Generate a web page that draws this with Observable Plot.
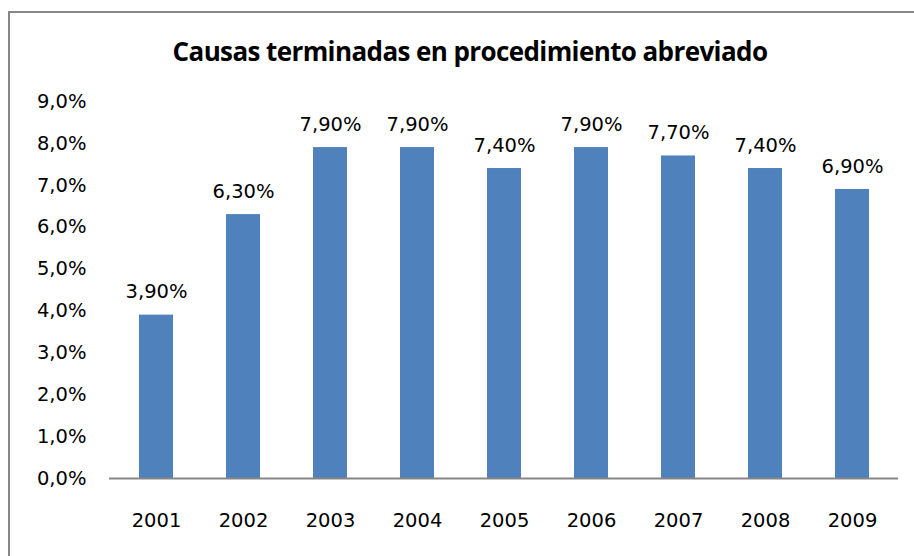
<!DOCTYPE html>
<html>
<head>
<meta charset="utf-8">
<script src="https://cdn.jsdelivr.net/npm/d3@7"></script>
<script src="https://cdn.jsdelivr.net/npm/@observablehq/plot@0.6"></script>
<style>
  html, body { margin: 0; padding: 0; background: #fff; width: 914px; height: 556px; overflow: hidden; }
  #frame { position: absolute; left: 8px; top: 11px; width: 920px; height: 560px; border: 2px solid #878787; box-sizing: border-box; }
  #title { position: absolute; left: 0; top: 33px; width: 940px; text-align: center; font-family: "Open Sans", sans-serif; font-weight: bold; font-size: 26px; line-height: 36px; color: #000; letter-spacing: -0.6px; }
  #chart { position: absolute; left: 0; top: 0; }
</style>
</head>
<body>
<div id="frame"></div>
<div id="title">Causas terminadas en procedimiento abreviado</div>
<div id="chart"></div>
<script>
const years = ["2001","2002","2003","2004","2005","2006","2007","2008","2009"];
const values = [3.9, 6.3, 7.9, 7.9, 7.4, 7.9, 7.7, 7.4, 6.9];
const yTicks = [0,1,2,3,4,5,6,7,8,9];

const data = years.map((y, i) => ({year: y, value: values[i]}));
const fmtTick = v => v.toFixed(1).replace(".", ",") + "%";
const fmtVal = v => v.toFixed(2).replace(".", ",") + "%";
const font = "'DejaVu Sans', sans-serif";

const plot = Plot.plot({
  width: 914,
  height: 556,
  marginLeft: 109,
  marginRight: 16,
  marginTop: 101,
  marginBottom: 78,
  style: {fontFamily: font, fontSize: "19.5px", color: "#000", background: "transparent"},
  x: {domain: years, paddingInner: 0.61, paddingOuter: 0.305, label: null, tickSize: 0, tickPadding: 35},
  y: {domain: [0, 9], ticks: yTicks, tickFormat: fmtTick, label: null, tickSize: 0, tickPadding: 23},
  marks: [
    Plot.barY(data, {x: "year", y: "value", fill: "#4F81BD"}),
    Plot.text(data, {x: "year", y: "value", text: d => fmtVal(d.value), dy: -23, fontSize: 19.5, fill: "#000"}),
    Plot.ruleX([0], {frameAnchor: "left", stroke: "#868686", strokeWidth: 2}),
    Plot.ruleY([0], {stroke: "#868686", strokeWidth: 2})
  ]
});
document.getElementById("chart").appendChild(plot);
</script>
</body>
</html>
